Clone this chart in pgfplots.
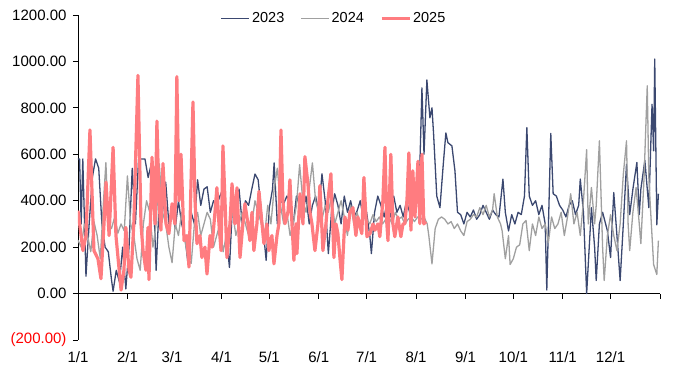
\documentclass[border=0pt]{standalone}
\usepackage{pgfplots}
\pgfplotsset{compat=1.18}
\usepackage{fontspec}
\setmainfont{Liberation Sans}
\definecolor{c23}{RGB}{59,72,112}
\definecolor{c24}{RGB}{160,160,160}
\definecolor{c25}{RGB}{255,124,128}
\begin{document}
\begin{tikzpicture}
\useasboundingbox (-78pt,-34pt) rectangle (602pt,340pt);
\begin{axis}[
 at={(0,0)}, anchor=south west,
 scale only axis, width=582pt, height=325pt,
 xmin=0, xmax=365, ymin=-200, ymax=1200,
 axis y line=left, axis x line=middle,
 hide obscured x ticks=false,
 axis line style={-, black, line width=0.8pt},
 tick align=outside,
 major tick length=5pt,
 tick style={black, line width=0.8pt},
 xtick={0,31,59,90,120,151,181,212,243,273,304,334,365},
 xticklabels={1/1,2/1,3/1,4/1,5/1,6/1,7/1,8/1,9/1,10/1,11/1,12/1,},
 ytick={-200,0,200,400,600,800,1000,1200},
 yticklabels={{\textcolor{red}{(200.00)}},0.00,200.00,400.00,600.00,800.00,1000.00,1200.00},
 ticklabel style={font=\fontsize{15}{18}\selectfont},
 xticklabel style={yshift=-50pt},
 yticklabel style={xshift=-3pt},
 legend style={at={(0.44,0.99)}, anchor=center, draw=none, fill=none,
   font=\fontsize{14.5}{17}\selectfont,
   /tikz/every even column/.append style={column sep=14pt}},
 legend columns=3,
 legend image code/.code={\draw[#1] (0pt,0pt) -- (28pt,0pt);},
]
\addplot[c23, line width=1.3pt, line join=round] coordinates {
(0,580)(1,580)(2,300)(3,580)(5,75)(7,300)(9,500)(11,580)(13,540)(15,300)(17,200)(19,180)(21,60)(22,10)(24,100)(26,50)(28,200)(30,20)(32,200)(34,540)(36,300)(38,580)(40,580)(42,580)(44,500)(46,560)(48,300)(49,100)(51,400)(53,350)(55,480)(57,300)(59,350)(61,280)(63,400)(65,300)(67,250)(69,128)(71,350)(73,300)(75,490)(77,380)(79,450)(81,460)(83,350)(85,400)(87,380)(89,420)(91,450)(93,250)(95,112)(97,400)(99,350)(101,450)(103,300)(105,400)(107,380)(109,450)(111,515)(113,490)(115,350)(117,215)(118,143)(120,370)(122,450)(123,563)(125,300)(127,400)(129,387)(131,420)(133,380)(135,300)(137,420)(139,380)(141,350)(143,420)(145,300)(147,380)(149,420)(151,350)(153,516)(155,400)(157,172)(159,350)(161,430)(163,380)(165,300)(167,420)(169,350)(171,400)(173,330)(175,355)(177,400)(179,320)(181,350)(183,250)(184,172)(186,350)(188,420)(190,380)(192,330)(194,400)(196,330)(198,420)(200,350)(202,380)(204,330)(206,400)(208,350)(210,400)(212,380)(214,450)(215.7,886)(217,600)(218.8,920)(220.7,757)(222,800)(223,688)(225,420)(227,370)(229,550)(230.7,692)(232,650)(234.5,636)(236.4,529)(238,350)(240,340)(242,300)(244,350)(246,330)(248,360)(250,320)(252,340)(254,380)(256,350)(258,320)(260,360)(262,340)(264,330)(266.5,493)(268,350)(270,270)(272,340)(274,300)(276,350)(278,340)(280,420)(281.5,715)(283,420)(285,380)(287,400)(289,340)(291,380)(293,300)(294,15)(296.5,690)(298,430)(300,420)(302,380)(304,360)(306,330)(308,380)(310,400)(312,340)(314,380)(315,493)(317,350)(319,0)(322,370)(324,200)(325,56)(327,300)(329,350)(332,271)(334,155)(336,435)(338,250)(340,56)(342,300)(344,557)(346,340)(348,450)(350.5,565)(352,340)(353,450)(355.5,574)(358,370)(360,815)(361,615)(361.7,1010)(363,296)(364,430)
};
\addlegendentry{2023}
\addplot[c24, line width=1.3pt, line join=round] coordinates {
(0,230)(2,200)(4,300)(6,250)(8,180)(10,310)(12,250)(14,150)(16,400)(17.5,564)(19,300)(21,280)(23,330)(25,260)(27,300)(29,270)(31,507)(33,300)(35,250)(37,150)(39,100)(41,300)(43,400)(45,350)(47,200)(49,300)(51,559)(53,350)(55,300)(57,200)(59,133)(61,300)(63,250)(65,350)(67,230)(69,150)(71,130)(73,300)(75,350)(77,250)(79,300)(81,350)(83,320)(85,200)(87,250)(89,300)(91,180)(93,250)(95,300)(97,350)(99,250)(101,300)(103,350)(105,300)(107,250)(109,300)(111,400)(113,350)(115,300)(117,250)(119,380)(121,300)(123,450)(125,540)(127,380)(129,300)(131,350)(133,250)(135,300)(137,380)(139,555)(141,400)(143,350)(145,450)(147,563)(149,400)(151,350)(153,320)(155,380)(157,350)(159,420)(161,300)(163,350)(165,400)(167,330)(169,250)(171,380)(173,300)(175,350)(177,300)(179,350)(181,320)(183,300)(185,340)(187,310)(189,330)(191,300)(193,320)(195,330)(197,300)(199,350)(201,320)(203,330)(205,300)(207,320)(209,330)(211,310)(213,330)(215,320)(217,330)(219,300)(220,250)(222,128)(224,280)(226,320)(228,330)(230,320)(232,300)(234,310)(236,280)(238,300)(240,270)(242,250)(244,310)(246,320)(248,340)(250,330)(252,370)(254,340)(256,380)(258,330)(260,360)(261,430)(263,330)(265,300)(266,270)(268,150)(270,250)(271,125)(273,150)(275,200)(277,210)(279,300)(281,315)(283,185)(285,300)(287,250)(289,330)(291,280)(293,300)(295,220)(297,330)(299,280)(301,300)(303,350)(305,250)(307,330)(309,430)(311,300)(313,350)(315,250)(317,400)(319,620)(320,300)(322,457)(324,300)(325,380)(327,658)(329,200)(330,56)(332,250)(334,340)(336,250)(338,185)(340,300)(342,514)(344,658)(345,300)(346,185)(348,350)(350,457)(352,300)(353,215)(355,500)(357,895)(358,500)(359,370)(361,125)(363,82)(364,228)
};
\addlegendentry{2024}
\addplot[c25, line width=3.2pt, line join=round] coordinates {
(0,357)(3.1,185)(5,250)(7.5,705)(10,185)(12.5,150)(14.4,64)(16.3,300)(17.6,480)(19.5,250)(22,630)(23.8,250)(27,15)(28.8,100)(30,285)(32,100)(33.2,70)(35,300)(37.6,940)(39.5,300)(40.8,185)(42.6,100)(43.9,285)(44.5,60)(46.4,587)(48.3,300)(49.5,743)(50.8,400)(52,273)(53.3,560)(55.2,300)(57,258)(59,387)(60.8,300)(62,935)(63.3,400)(64.6,600)(66.5,228)(68.3,250)(69.6,114)(72.1,825)(73.4,400)(74.6,215)(76.5,250)(77.7,155)(79.6,200)(80.9,84)(82.8,250)(84,200)(85.9,350)(87.1,456)(88.4,300)(89.7,185)(90.9,636)(92.2,400)(93.4,155)(95.3,300)(96.6,473)(98.4,300)(99.7,456)(101.6,155)(103.4,300)(104.7,387)(106.6,300)(107.8,228)(109.1,350)(110.3,185)(112.2,300)(113.5,440)(115.4,300)(116.6,215)(118.5,300)(119.7,185)(121.6,250)(122.9,128)(124.8,250)(126,301)(127.3,705)(128.5,400)(129.8,301)(131.7,350)(132.9,490)(134.2,300)(135.4,143)(136.7,301)(137.3,172)(139.2,430)(141.1,300)(142.3,590)(144.2,473)(145.5,350)(146.7,301)(148.6,185)(150.5,300)(151.7,465)(153.6,185)(155.5,300)(156.7,400)(158.6,516)(160.5,155)(161.8,300)(163,258)(164.3,150)(165.5,60)(167.4,330)(169.3,273)(170.5,350)(172.4,370)(174.3,250)(175.5,330)(178,258)(179.3,500)(181.2,245)(183.1,258)(185,300)(186.2,273)(188.1,300)(189.3,245)(191.2,400)(192.5,630)(193.7,300)(194.4,228)(196.2,600)(197.5,300)(198.7,245)(200.6,330)(202.5,245)(203.8,300)(205,301)(206.3,400)(207.5,606)(208.8,273)(210,529)(211.3,330)(213.2,570)(214.4,301)(215.7,600)(216.9,300)(218.2,310)
};
\addlegendentry{2025}
\end{axis}
\end{tikzpicture}
\end{document}
